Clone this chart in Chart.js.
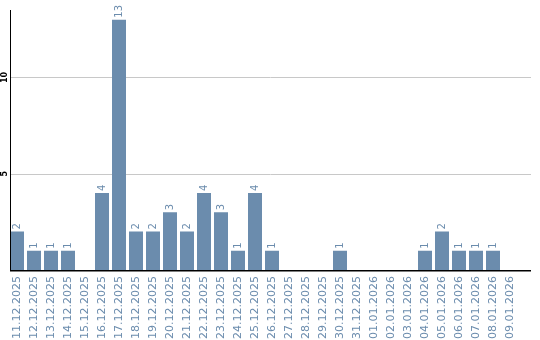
<!DOCTYPE html>
<html>
<head>
<meta charset="utf-8">
<script src="https://cdn.jsdelivr.net/npm/chart.js@4.4.0/dist/chart.umd.min.js"></script>
<style>
html,body{margin:0;padding:0;background:#fff;}
#wrap{width:540px;height:340px;position:relative;}
</style>
</head>
<body>
<div id="wrap"><canvas id="c" width="540" height="340"></canvas></div>
<script>
const categories = ["11.12.2025","12.12.2025","13.12.2025","14.12.2025","15.12.2025","16.12.2025","17.12.2025","18.12.2025","19.12.2025","20.12.2025","21.12.2025","22.12.2025","23.12.2025","24.12.2025","25.12.2025","26.12.2025","27.12.2025","28.12.2025","29.12.2025","30.12.2025","31.12.2025","01.01.2026","02.01.2026","03.01.2026","04.01.2026","05.01.2026","06.01.2026","07.01.2026","08.01.2026","09.01.2026"];
const values = [2,1,1,1,0,4,13,2,2,3,2,4,3,1,4,1,0,0,0,1,0,0,0,0,1,2,1,1,1,0];
const yTicks = [5,10];

const BLUE = '#6b8cad';

const deco = {
  id: 'deco',
  beforeDatasetsDraw(chart) {
    const ctx = chart.ctx, y = chart.scales.y;
    ctx.save();
    ctx.strokeStyle = '#c8c8c8';
    ctx.lineWidth = 1;
    yTicks.forEach(v => {
      const py = Math.round(y.getPixelForValue(v)) + 0.5;
      ctx.beginPath(); ctx.moveTo(10, py); ctx.lineTo(531, py); ctx.stroke();
    });
    ctx.restore();
  },
  afterDatasetsDraw(chart) {
    const ctx = chart.ctx, y = chart.scales.y, a = chart.chartArea;
    ctx.save();
    // axes
    ctx.strokeStyle = '#000';
    ctx.lineWidth = 1;
    ctx.beginPath(); ctx.moveTo(10.5, a.top); ctx.lineTo(10.5, a.bottom + 1); ctx.stroke();
    ctx.lineWidth = 1.5;
    ctx.beginPath(); ctx.moveTo(10, a.bottom + 0.75); ctx.lineTo(531, a.bottom + 0.75); ctx.stroke();
    // y tick labels, rotated
    ctx.fillStyle = '#000';
    ctx.font = 'bold 8px "DejaVu Sans"';
    ctx.textAlign = 'center';
    ctx.textBaseline = 'middle';
    yTicks.forEach(v => {
      const py = y.getPixelForValue(v);
      ctx.save(); ctx.translate(5, py); ctx.rotate(-Math.PI / 2); ctx.fillText(String(v), 0, 0); ctx.restore();
    });
    // value labels
    const meta = chart.getDatasetMeta(0);
    ctx.fillStyle = BLUE;
    ctx.font = '10px "DejaVu Sans"';
    ctx.textAlign = 'left';
    ctx.textBaseline = 'middle';
    meta.data.forEach((bar, i) => {
      if (!values[i]) return;
      ctx.save(); ctx.translate(bar.x, bar.y - 2); ctx.rotate(-Math.PI / 2); ctx.fillText(String(values[i]), 0, 0); ctx.restore();
    });
    ctx.restore();
  }
};

new Chart(document.getElementById('c'), {
  type: 'bar',
  data: {
    labels: categories,
    datasets: [{
      data: values,
      backgroundColor: BLUE,
      borderWidth: 0,
      barPercentage: 14 / 17,
      categoryPercentage: 1
    }]
  },
  options: {
    responsive: false,
    animation: false,
    events: [],
    layout: { padding: { top: 10, right: 21.5, left: 0, bottom: 0 } },
    plugins: { legend: { display: false }, tooltip: { enabled: false } },
    scales: {
      x: {
        offset: true,
        grid: { display: false, drawTicks: false },
        border: { display: false },
        ticks: {
          color: BLUE,
          font: { family: 'DejaVu Sans', size: 11 },
          minRotation: 90, maxRotation: 90,
          autoSkip: false,
          padding: 6
        },
        afterFit(s) { s.height = 70; }
      },
      y: {
        min: 0, max: 13.5,
        grid: { display: false },
        border: { display: false },
        ticks: { display: false, stepSize: 5 },
        afterFit(s) { s.width = 8.5; }
      }
    }
  },
  plugins: [deco]
});
</script>
</body>
</html>
